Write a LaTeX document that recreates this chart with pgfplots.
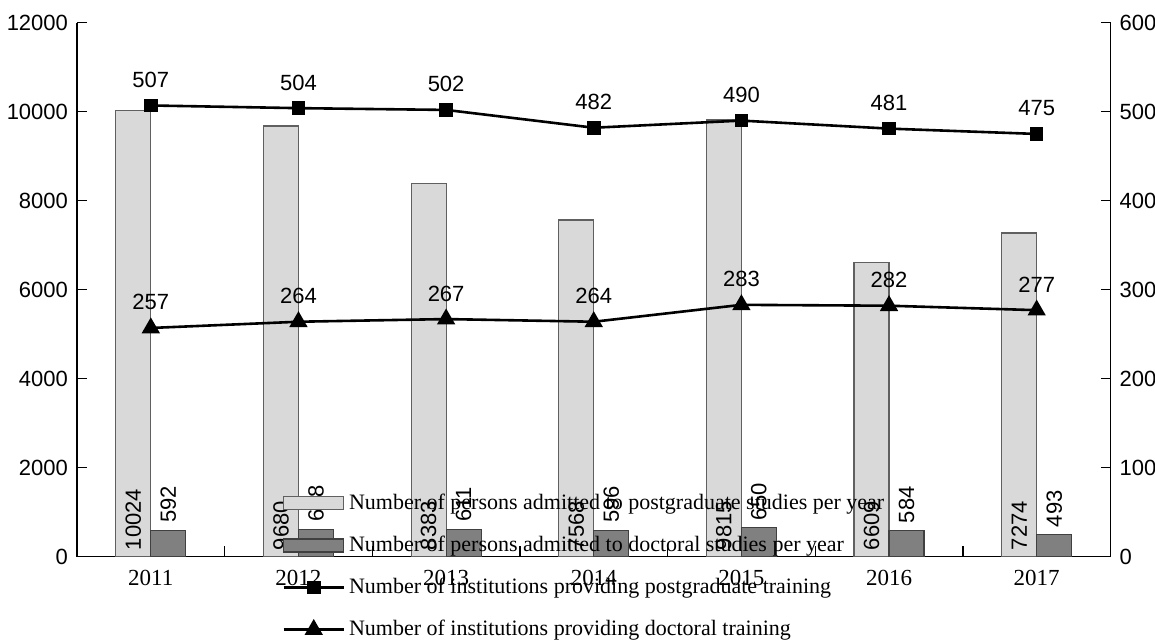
\documentclass[border=0pt]{standalone}
\usepackage{fontspec}
\setmainfont{Liberation Serif}
\setsansfont{Liberation Sans}
\usepackage{pgfplots}
\pgfplotsset{compat=1.18}

\definecolor{lightbar}{HTML}{D9D9D9}
\definecolor{lightedge}{HTML}{606060}
\definecolor{darkbar}{HTML}{808080}
\definecolor{darkedge}{HTML}{404040}

\newcommand{\lblfont}{\sffamily\fontsize{11}{13}\selectfont}
\newcommand{\txtfont}{\rmfamily\fontsize{11}{13}\selectfont}

\pgfplotsset{
  twoaxes/.style={
    scale only axis, width=516.75pt, height=267pt,
    xmin=-0.5, xmax=6.5,
    axis line style={-, line width=0.7pt},
    tick align=inside, major tick length=5pt,
    tick style={line width=0.7pt, black},
    yticklabel style={font=\lblfont},
    scaled y ticks=false,
    /pgf/number format/1000 sep={},
    /pgf/number format/assume math mode=true,
  },
}

\begin{document}
\begin{tikzpicture}
\begin{axis}[twoaxes,
    ymin=0, ymax=12000,
    axis x line*=bottom, axis y line*=left,
    xtick={0,...,6}, xticklabels={2011,2012,2013,2014,2015,2016,2017},
    xticklabel style={font=\rmfamily\fontsize{11.5}{13}\selectfont, yshift=-3pt},
    major x tick style={draw=none},
    minor xtick={0.5,1.5,2.5,3.5,4.5,5.5}, minor tick length=5.5pt,
    ytick={0,2000,...,12000},
    yticklabel style={xshift=-1pt},
]
  \coordinate (bl) at (rel axis cs:0,0);
  \coordinate (tr) at (rel axis cs:1,1);
  % postgraduate admissions, label at the foot of the bar
  \addplot[ybar, bar width=0.237, bar shift=-0.1185, fill=lightbar, draw=lightedge, line width=0.6pt,
    nodes near coords, visualization depends on={y \as \rawy},
    every node near coord/.append style={shift={(axis direction cs:-0.1185,-\rawy)}, rotate=90, anchor=west,
      font=\lblfont, text=black, inner sep=3pt}]
    coordinates {(0,10024) (1,9680) (2,8383) (3,7568) (4,9815) (5,6609) (6,7274)};
  % doctoral admissions, label above the bar
  \addplot[ybar, bar width=0.237, bar shift=0.1185, fill=darkbar, draw=darkedge, line width=0.6pt,
    nodes near coords,
    every node near coord/.append style={shift={(axis direction cs:0.1185,0)}, rotate=90, anchor=west,
      font=\lblfont, text=black, inner sep=3.5pt}]
    coordinates {(0,592) (1,618) (2,611) (3,596) (4,650) (5,584) (6,493)};
\end{axis}

\begin{axis}[twoaxes,
    ymin=0, ymax=600,
    axis y line*=right, axis x line=none,
    ytick={0,100,...,600},
    yticklabel style={xshift=1pt},
    legend style={at={(rel axis cs:0.1984,0.1255)}, anchor=north west, draw=none, fill=none,
      inner sep=0pt, row sep=7.8pt, font=\txtfont, cells={anchor=west}},
    legend image code/.code={\draw[mark repeat=2, mark phase=2, #1] plot coordinates {(0pt,0pt) (15pt,0pt) (30pt,0pt)};},
    every node near coord/.append style={anchor=base, yshift=9pt, font=\lblfont, text=black},
]
  \addlegendimage{legend image code/.code={\draw[fill=lightbar, draw=lightedge, line width=0.6pt] (0pt,-3.25pt) rectangle (30pt,3.25pt);}}
  \addlegendentry{Number of persons admitted to postgraduate studies per year}
  \addlegendimage{legend image code/.code={\draw[fill=darkbar, draw=darkedge, line width=0.6pt] (0pt,-3.25pt) rectangle (30pt,3.25pt);}}
  \addlegendentry{Number of persons admitted to doctoral studies per year}
  \addplot[black, line width=1.3pt, mark=square*, mark size=2.75pt, nodes near coords]
    coordinates {(0,507) (1,504) (2,502) (3,482) (4,490) (5,481) (6,475)};
  \addlegendentry{Number of institutions providing postgraduate training}
  \addplot[black, line width=1.3pt, mark=triangle*, mark size=4pt, nodes near coords]
    coordinates {(0,257) (1,264) (2,267) (3,264) (4,283) (5,282) (6,277)};
  \addlegendentry{Number of institutions providing doctoral training}
\end{axis}

\pgfresetboundingbox
\path[use as bounding box] ([xshift=-38.5pt,yshift=-42.65pt]bl) rectangle ([xshift=22.25pt,yshift=11.35pt]tr);
\end{tikzpicture}
\end{document}
